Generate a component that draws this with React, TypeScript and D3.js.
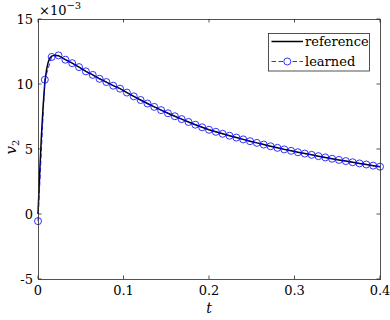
import React from "react";
import * as d3 from "d3";

// learned series: t = 0 .. 0.4 step 0.008 (values x 1e-3)
const learnedT: number[] = d3.range(0, 51).map((i) => +(i * 0.008).toFixed(3));
const learnedV: number[] = [
  -0.55, 10.33, 12.08, 12.2, 11.87, 11.6, 11.3, 10.97, 10.7, 10.4, 10.15, 9.87, 9.64,
  9.34, 9.05, 8.77, 8.5, 8.24, 7.99, 7.75, 7.52, 7.3, 7.08, 6.87, 6.67, 6.48,
  6.32, 6.17, 6.02, 5.88, 5.74, 5.6, 5.47, 5.34, 5.21, 5.09, 4.97, 4.86, 4.75,
  4.65, 4.55, 4.45, 4.35, 4.25, 4.16, 4.07, 3.98, 3.89, 3.81, 3.72, 3.64,
];

// reference series: dense start, then same grid as learned
const refEarlyT: number[] = [0, 0.002, 0.004, 0.006, 0.008, 0.01, 0.012, 0.014, 0.016, 0.02, 0.024];
const refEarlyV: number[] = [0, 3.2, 6.0, 8.3, 10.1, 11.1, 11.7, 12.0, 12.15, 12.22, 12.18];

const xTicks: number[] = [0, 0.1, 0.2, 0.3, 0.4];
const xTickLabels: string[] = ["0", "0.1", "0.2", "0.3", "0.4"];
const yTicks: number[] = [-5, 0, 5, 10, 15];
const yTickLabels: string[] = ["-5", "0", "5", "10", "15"];
const legendLabels: string[] = ["reference", "learned"];

export default function App() {
  const W = 390, H = 320;
  const L = 38, R = 380, T = 19, B = 279;
  const x = d3.scaleLinear().domain([0, 0.4]).range([L, R]);
  const y = d3.scaleLinear().domain([-5, 15]).range([B, T]);

  const refT = [...refEarlyT, ...learnedT.slice(4)];
  const refV = [...refEarlyV, ...learnedV.slice(4)];
  const refPts: [number, number][] = refT.map((t, i) => [t, refV[i]]);
  const lrnPts: [number, number][] = learnedT.map((t, i) => [t, learnedV[i]]);

  const line = d3
    .line<[number, number]>()
    .x((d) => x(d[0]))
    .y((d) => y(d[1]));

  const axisColor = "#262626";
  const ff = { fontFamily: "DejaVu Serif" };
  const fs = 13;
  const tickLen = 3.5;

  return (
    <svg
      width={W}
      height={H}
      style={{ position: "absolute", left: 0, top: 0, background: "#fff" }}
    >
      <rect x={0} y={0} width={W} height={H} fill="#fff" />
      {/* data */}
      <path d={line(refPts) || ""} fill="none" stroke="#000" strokeWidth={1.5} />
      <path
        d={line(lrnPts) || ""}
        fill="none"
        stroke="#0000ff"
        strokeWidth={0.8}
        strokeDasharray="4.5,2.5"
      />
      {lrnPts.map((d, i) => (
        <circle
          key={i}
          cx={x(d[0])}
          cy={y(d[1])}
          r={3.5}
          fill="none"
          stroke="#0000ff"
          strokeWidth={0.8}
        />
      ))}

      {/* box */}
      <rect
        x={L}
        y={T}
        width={R - L}
        height={B - T}
        fill="none"
        stroke={axisColor}
        strokeWidth={0.8}
        shapeRendering="crispEdges"
      />
      {xTicks.map((t, i) => (
        <g key={"xt" + i}>
          <line x1={x(t)} x2={x(t)} y1={B} y2={B - tickLen} stroke={axisColor} strokeWidth={0.8} />
          <line x1={x(t)} x2={x(t)} y1={T} y2={T + tickLen} stroke={axisColor} strokeWidth={0.8} />
          <text x={x(t)} y={295} fontSize={fs} textAnchor="middle" fill="#000" style={ff}>
            {xTickLabels[i]}
          </text>
        </g>
      ))}
      {yTicks.map((v, i) => (
        <g key={"yt" + i}>
          <line x1={L} x2={L + tickLen} y1={y(v)} y2={y(v)} stroke={axisColor} strokeWidth={0.8} />
          <line x1={R} x2={R - tickLen} y1={y(v)} y2={y(v)} stroke={axisColor} strokeWidth={0.8} />
          <text x={33} y={y(v) + 5} fontSize={fs} textAnchor="end" fill="#000" style={ff}>
            {yTickLabels[i]}
          </text>
        </g>
      ))}

      {/* exponent */}
      <text x={39} y={15} fontSize={fs} fill="#000" style={ff}>
        ×10
        <tspan dy={-6.5} fontSize={10}>
          −3
        </tspan>
      </text>

      {/* axis labels */}
      <text x={(L + R) / 2} y={313} fontSize={14} fontStyle="italic" textAnchor="middle" fill="#000" style={ff}>
        t
      </text>
      <text
        transform={`translate(16, ${(T + B) / 2 - 2}) rotate(-90)`}
        fontSize={15}
        textAnchor="middle"
        fill="#000"
        style={ff}
      >
        <tspan fontStyle="italic">v</tspan>
        <tspan fontSize={10} dy={3}>
          2
        </tspan>
      </text>

      {/* legend */}
      <g>
        <rect x={268.5} y={33.5} width={101} height={37.5} fill="#fff" stroke={axisColor} strokeWidth={0.8} />
        <line x1={271.5} x2={303} y1={41.5} y2={41.5} stroke="#000" strokeWidth={1.5} />
        <text x={305} y={46} fontSize={fs} fill="#000" style={ff}>
          {legendLabels[0]}
        </text>
        <line
          x1={271.5}
          x2={303}
          y1={61.5}
          y2={61.5}
          stroke="#0000ff"
          strokeWidth={0.8}
          strokeDasharray="4.5,2.5"
        />
        <circle cx={287.3} cy={61.5} r={3.5} fill="#fff" stroke="#0000ff" strokeWidth={0.8} />
        <text x={305} y={66} fontSize={fs} fill="#000" style={ff}>
          {legendLabels[1]}
        </text>
      </g>
    </svg>
  );
}
